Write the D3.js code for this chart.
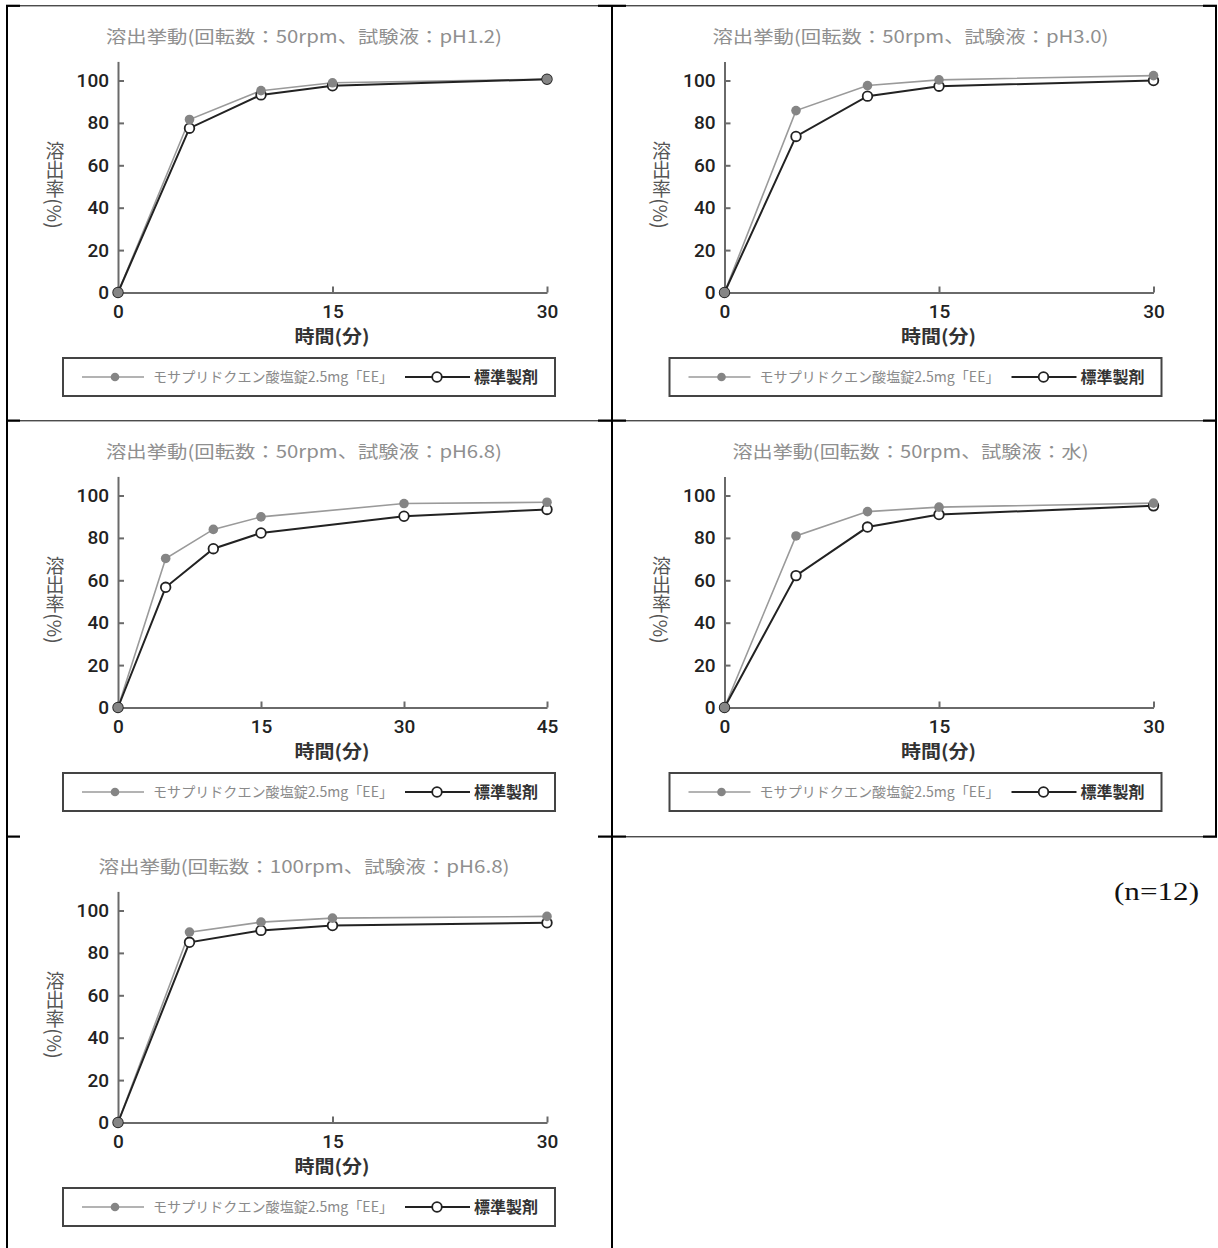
<!DOCTYPE html>
<html><head><meta charset="utf-8">
<script src="https://cdn.jsdelivr.net/npm/d3@7"></script>
<style>html,body{margin:0;padding:0;background:#fff;} svg{display:block;}</style>
</head><body>
<svg id="c" width="1218" height="1248"></svg>
<script>
// ---------------- data ----------------
const times30 = [0, 5, 10, 15, 30];
const times45 = [0, 5, 10, 15, 30, 45];
const xTicks30 = [0, 15, 30];
const xTicks45 = [0, 15, 30, 45];
const yTicks = [0, 20, 40, 60, 80, 100];

const titles = [
  "溶出挙動(回転数：50rpm、試験液：pH1.2)",
  "溶出挙動(回転数：50rpm、試験液：pH3.0)",
  "溶出挙動(回転数：50rpm、試験液：pH6.8)",
  "溶出挙動(回転数：50rpm、試験液：水)",
  "溶出挙動(回転数：100rpm、試験液：pH6.8)"
];

const testPH12 = [0, 81.6, 95.2, 98.9, 100.6];
const refPH12  = [0, 77.5, 93.2, 97.5, 100.6];
const testPH30 = [0, 85.8, 97.6, 100.3, 102.3];
const refPH30  = [0, 73.6, 92.6, 97.3, 100.0];
const testPH68 = [0, 70.3, 84.0, 89.9, 96.2, 96.8];
const refPH68  = [0, 56.7, 74.9, 82.3, 90.2, 93.4];
const testWater = [0, 80.9, 92.4, 94.5, 96.4];
const refWater  = [0, 62.2, 85.1, 91.0, 95.1];
const test100rpm = [0, 89.8, 94.5, 96.4, 97.2];
const ref100rpm  = [0, 85.0, 90.6, 92.9, 94.2];

const seriesNames = ["モサプリドクエン酸塩錠2.5mg「EE」", "標準製剤"];
const xLabel = "時間(分)";
const yLabel = "溶出率(%)";
const noteText = "(n=12)";

const panels = [
  {title: titles[0], tw: 396, times: times30, ticks: xTicks30, test: testPH12, ref: refPH12, dx: 0, dy: 0},
  {title: titles[1], tw: 396, times: times30, ticks: xTicks30, test: testPH30, ref: refPH30, dx: 606.5, dy: 0},
  {title: titles[2], tw: 396, times: times45, ticks: xTicks45, test: testPH68, ref: refPH68, dx: 0, dy: 415},
  {title: titles[3], tw: 356, times: times30, ticks: xTicks30, test: testWater, ref: refWater, dx: 606.5, dy: 415},
  {title: titles[4], tw: 411, times: times30, ticks: xTicks30, test: test100rpm, ref: ref100rpm, dx: 0, dy: 830}
];

// ---------------- drawing ----------------
const svg = d3.select("#c");
const CJK = "'Noto Sans CJK JP', 'Noto Sans', sans-serif";
const NUM = "Roboto, 'Liberation Sans', Arial, sans-serif";

// table borders
const B = svg.append("g").attr("stroke", "#000").attr("fill", "none");
function ln(x1, y1, x2, y2, w) {
  B.append("line").attr("x1", x1).attr("y1", y1).attr("x2", x2).attr("y2", y2).attr("stroke-width", w);
}
ln(7, 5, 7, 1248, 2);
ln(612, 5, 612, 1248, 2);
ln(1216, 5, 1216, 837, 2);
[5.8, 420.8].forEach(yy => ln(7, yy, 1217, yy, 1));
ln(626, 836.8, 1217, 836.8, 1);
[5.8, 420.6, 836.6].forEach(yy => {
  ln(6, yy, 20, yy, 2.2);
  ln(598, yy, 626, yy, 2.2);
  ln(1203, yy, 1217, yy, 2.2);
});

function drawPanel(p) {
  const g = svg.append("g").attr("transform", `translate(${p.dx},${p.dy})`);
  const xMax = p.times[p.times.length - 1];
  const x = d3.scaleLinear().domain([0, xMax]).range([118, 547]);
  const y = d3.scaleLinear().domain([0, 109]).range([292.5, 61.4]);

  // title
  g.append("text").attr("x", 304).attr("y", 37).attr("dy", "0.36em")
    .attr("text-anchor", "middle").attr("font-family", CJK).attr("font-size", 17.5)
    .attr("fill", "#8f8f8f").attr("textLength", p.tw).attr("lengthAdjust", "spacingAndGlyphs")
    .text(p.title);

  // axes
  const ya = g.append("g").attr("transform", "translate(118,0)")
    .call(d3.axisLeft(y).tickValues(yTicks).tickSize(-6).tickPadding(9).tickSizeOuter(0));
  const xa = g.append("g").attr("transform", "translate(0,292.5)")
    .call(d3.axisBottom(x).tickValues(p.ticks).tickSize(-6).tickPadding(12).tickSizeOuter(0));
  [ya, xa].forEach(a => {
    a.attr("font-family", NUM).attr("font-size", 19).attr("font-weight", 500);
    a.selectAll("path,line").attr("stroke", "#6a6a6a").attr("stroke-width", 2);
    a.selectAll("text").attr("fill", "#222");
  });

  // axis titles
  g.append("text").attr("x", 332).attr("y", 337).attr("dy", "0.36em")
    .attr("text-anchor", "middle").attr("font-family", CJK).attr("font-size", 18)
    .attr("font-weight", "bold").attr("fill", "#333").attr("textLength", 75)
    .attr("lengthAdjust", "spacingAndGlyphs").text(xLabel);
  g.append("text").attr("x", 55).attr("y", 185)
    .attr("style", "writing-mode: vertical-rl;")
    .attr("text-anchor", "middle").attr("font-family", CJK).attr("font-size", 19)
    .attr("fill", "#555").text(yLabel);

  const testPts = p.times.map((t, i) => ({t, v: p.test[i]}));
  const refPts = p.times.map((t, i) => ({t, v: p.ref[i]}));
  const line = d3.line().x(d => x(d.t)).y(d => y(d.v));

  g.append("path").datum(testPts).attr("d", line).attr("fill", "none")
    .attr("stroke", "#9a9a9a").attr("stroke-width", 1.6);
  g.append("path").datum(refPts).attr("d", line).attr("fill", "none")
    .attr("stroke", "#222").attr("stroke-width", 2);
  g.selectAll("circle.ref").data(refPts).join("circle").attr("class", "ref")
    .attr("cx", d => x(d.t)).attr("cy", d => y(d.v)).attr("r", 4.8)
    .attr("fill", "#fff").attr("stroke", "#222").attr("stroke-width", 1.8);
  g.selectAll("circle.test").data(testPts).join("circle").attr("class", "test")
    .attr("cx", d => x(d.t)).attr("cy", d => y(d.v)).attr("r", 4.8)
    .attr("fill", "#858585");

  // legend
  const L = g.append("g");
  L.append("rect").attr("x", 63).attr("y", 358).attr("width", 492).attr("height", 38)
    .attr("fill", "#fff").attr("stroke", "#444").attr("stroke-width", 2);
  const ly = 377;
  L.append("line").attr("x1", 82).attr("x2", 144).attr("y1", ly).attr("y2", ly)
    .attr("stroke", "#9a9a9a").attr("stroke-width", 1.6);
  L.append("circle").attr("cx", 115).attr("cy", ly).attr("r", 4.3).attr("fill", "#858585");
  L.append("text").attr("x", 153).attr("y", ly).attr("dy", "0.36em")
    .attr("font-family", CJK).attr("font-size", 14).attr("fill", "#8a8a8a")
    .attr("textLength", 240).attr("lengthAdjust", "spacingAndGlyphs").text(seriesNames[0]);
  L.append("line").attr("x1", 405).attr("x2", 470).attr("y1", ly).attr("y2", ly)
    .attr("stroke", "#222").attr("stroke-width", 2);
  L.append("circle").attr("cx", 437).attr("cy", ly).attr("r", 4.8)
    .attr("fill", "#fff").attr("stroke", "#222").attr("stroke-width", 1.8);
  L.append("text").attr("x", 474).attr("y", ly).attr("dy", "0.36em")
    .attr("font-family", CJK).attr("font-size", 16).attr("font-weight", "bold").attr("fill", "#333")
    .attr("textLength", 64).attr("lengthAdjust", "spacingAndGlyphs").text(seriesNames[1]);
}
panels.forEach(drawPanel);

svg.append("text").attr("x", 1114).attr("y", 900)
  .attr("font-family", "'Liberation Serif', 'DejaVu Serif', serif").attr("font-size", 25)
  .attr("fill", "#111").attr("textLength", 85).attr("lengthAdjust", "spacingAndGlyphs")
  .text(noteText);
</script>
</body></html>
